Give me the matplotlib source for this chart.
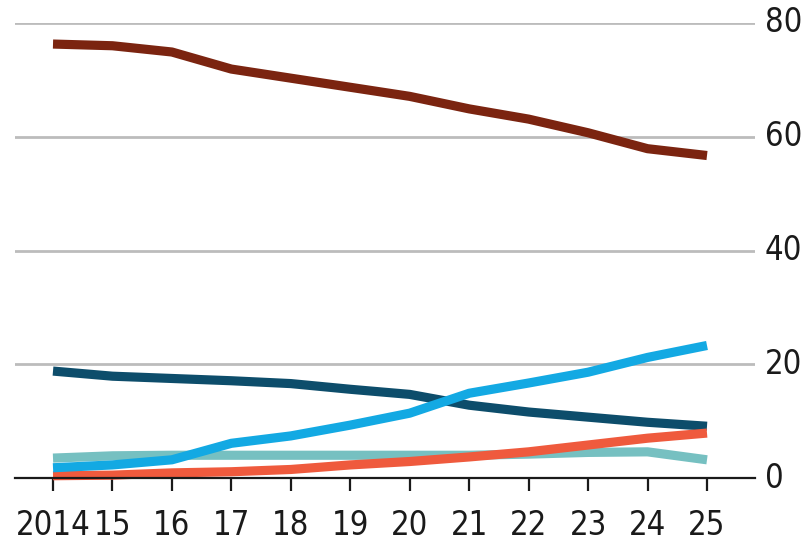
import matplotlib
matplotlib.use("Agg")
import matplotlib.pyplot as plt
from matplotlib import font_manager

years = [2014, 2015, 2016, 2017, 2018, 2019, 2020, 2021, 2022, 2023, 2024, 2025]
year_labels = ["2014", "15", "16", "17", "18", "19", "20", "21", "22", "23", "24", "25"]

brown = [76.3, 76.0, 74.9, 71.9, 70.3, 68.7, 67.1, 64.9, 63.1, 60.7, 57.9, 56.7]
dark_blue = [18.8, 17.9, 17.5, 17.1, 16.6, 15.6, 14.7, 12.8, 11.6, 10.7, 9.8, 9.1]
light_blue = [1.8, 2.3, 3.2, 6.1, 7.4, 9.3, 11.4, 14.9, 16.7, 18.6, 21.2, 23.3]
teal = [3.5, 3.9, 4.0, 4.0, 4.0, 4.0, 4.0, 4.0, 4.2, 4.5, 4.6, 3.2]
red = [0.4, 0.5, 0.9, 1.1, 1.5, 2.3, 2.9, 3.7, 4.6, 5.8, 7.0, 7.9]

y_ticks = [0, 20, 40, 60, 80]

# look for a narrow / condensed regular face
cond = None
for f in font_manager.fontManager.ttflist:
    n = (f.name + " " + f.fname).lower()
    st = str(f.stretch).lower()
    if ("narrow" in n or "condensed" in n or "condensed" in st) and f.weight in (400, "normal", "regular") \
            and f.style == "normal" and "bold" not in f.fname.lower():
        cond = f.fname
        break
if cond:
    fp = font_manager.FontProperties(fname=cond, size=23.5)
else:
    fp = font_manager.FontProperties(family="Roboto", size=22)

W, H = 807, 541
fig = plt.figure(figsize=(W / 100, H / 100), dpi=100)
left, right = 15 / W, 755 / W
top_px, bot_px = 23, 478
ax = fig.add_axes([left, 1 - bot_px / H, right - left, (bot_px - top_px) / H])

ax.set_xlim(2014 - 38 / 59.45, 2025 + 48 / 59.45)
ax.set_ylim(0, 80)

for v in y_ticks[1:]:
    ax.axhline(v, color="#bcbcbc", lw=2.0, zorder=1)
ax.axhline(0, color="#1a1a1a", lw=1.6, zorder=6, clip_on=False)

lw = 6.6
kw = dict(lw=lw, solid_capstyle="butt", solid_joinstyle="round", clip_on=False)
ax.plot(years, teal, color="#76c0c1", zorder=2, **kw)
ax.plot(years, dark_blue, color="#0d4d6b", zorder=3, **kw)
ax.plot(years, brown, color="#7b2410", zorder=3, **kw)
ax.plot(years, red, color="#ef5a3d", zorder=4, **kw)
ax.plot(years, light_blue, color="#13a9e3", zorder=5, **kw)

for s in ax.spines.values():
    s.set_visible(False)

ax.set_xticks(years)
ax.set_xticklabels(year_labels)
ax.tick_params(axis="x", length=9, width=1.6, color="#1a1a1a", pad=13,
               labelcolor="#1a1a1a")
ax.yaxis.tick_right()
ax.set_yticks(y_ticks)
ax.set_yticklabels([str(v) for v in y_ticks])
ax.tick_params(axis="y", length=0, pad=7, labelcolor="#1a1a1a")
for lab in ax.get_xticklabels() + ax.get_yticklabels():
    lab.set_fontproperties(fp)
for lab in ax.get_yticklabels():
    lab.set_verticalalignment("center")

fig.savefig("out.png", dpi=100, facecolor="white")
